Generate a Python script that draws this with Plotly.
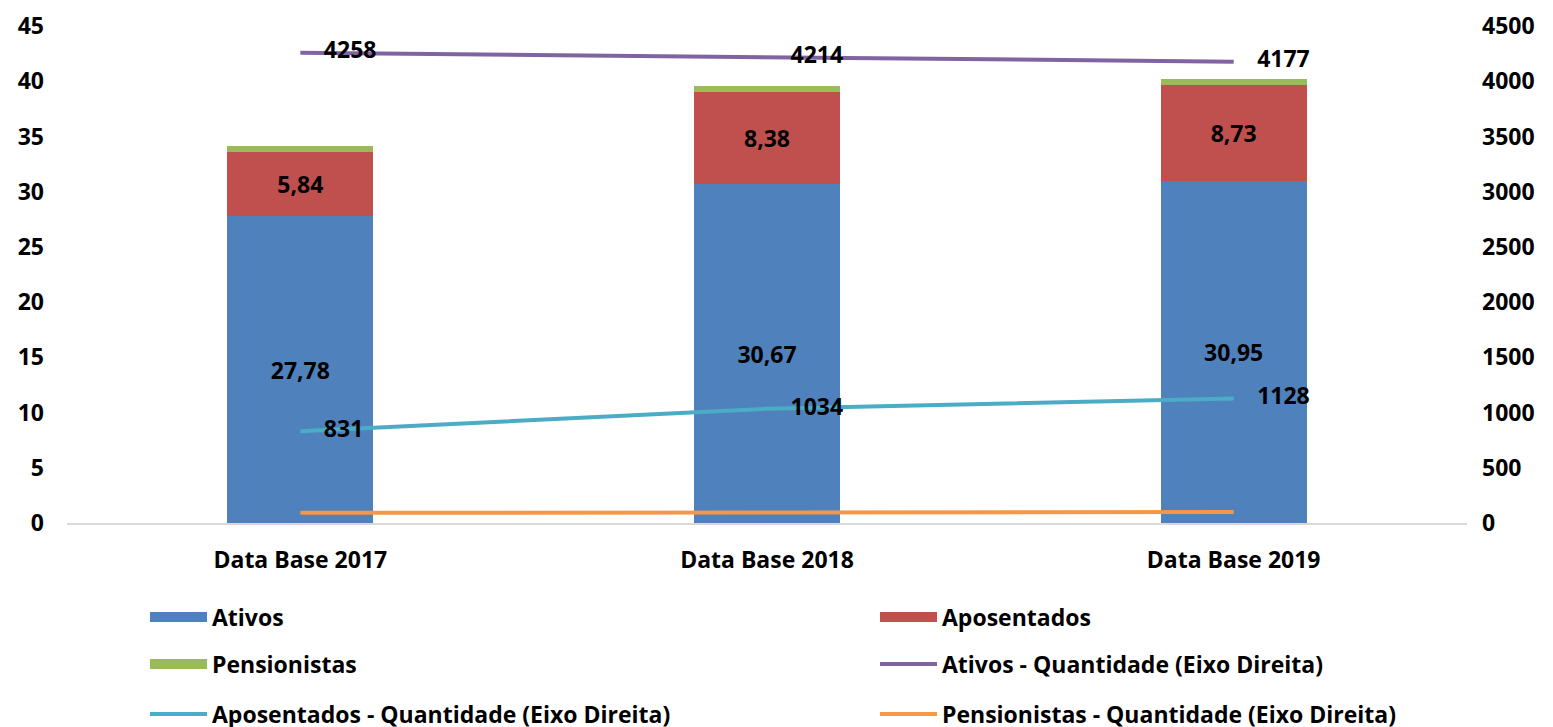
import plotly.graph_objects as go

categories = ["Data Base 2017", "Data Base 2018", "Data Base 2019"]
ativos = [27.78, 30.67, 30.95]
aposentados = [5.84, 8.38, 8.73]
pensionistas = [0.55, 0.55, 0.48]
ativos_qtd = [4258, 4214, 4177]
aposentados_qtd = [831, 1034, 1128]
pensionistas_qtd = [92, 95, 100]

FONT = "Open Sans"
W, H = 1553, 727
OFF = 8  # page body margin
L, R, T, B = 67 - OFF, 86 + OFF, 26 - OFF, 204 + OFF
pw = W - L - R
ph = H - T - B

def py(pix):
    # page pixel y -> paper y
    return (H - B - (pix - OFF)) / ph

def px(pix):
    # page pixel x -> paper x
    return (pix - OFF - L) / pw

def fnt(size):
    return dict(family=FONT, size=size, color="black", weight="bold")

fig = go.Figure()
bar_lbl = fnt(23)
bar_series = [
    ("Ativos", ativos, "#4F81BD", "legend", True),
    ("Aposentados", aposentados, "#C0504D", "legend2", True),
    ("Pensionistas", pensionistas, "#9BBB59", "legend3", False),
]
for name, vals, color, leg, labelled in bar_series:
    kw = dict(texttemplate="%{y:.2f}", textposition="inside", insidetextanchor="middle",
              textfont=bar_lbl) if labelled else {}
    fig.add_trace(go.Bar(x=categories, y=vals, name=name, marker=dict(color=color, line=dict(width=0)),
                         showlegend=False, **kw))
    # legend swatch (wide rectangle like the original)
    fig.add_trace(go.Scatter(x=[None], y=[None], name=name, mode="lines",
                             line=dict(color=color, width=15), legend=leg, showlegend=True))

line_series = [
    ("Ativos - Quantidade (Eixo Direita)", ativos_qtd, "#8064A2", "legend4", True),
    ("Aposentados - Quantidade (Eixo Direita)", aposentados_qtd, "#4BACC6", "legend5", True),
    ("Pensionistas - Quantidade (Eixo Direita)", pensionistas_qtd, "#F79646", "legend6", False),
]
for name, vals, color, leg, labelled in line_series:
    fig.add_trace(go.Scatter(x=categories, y=vals, name=name, yaxis="y2", mode="lines",
                             line=dict(color=color, width=4), legend=leg, showlegend=True))
    if labelled:
        fig.add_trace(go.Scatter(x=categories, y=vals, yaxis="y2", mode="markers+text",
                                 text=[str(v) for v in vals], textposition="middle right",
                                 marker=dict(size=36, opacity=0), textfont=bar_lbl,
                                 showlegend=False, hoverinfo="skip"))

tickf = fnt(23)
leg_common = dict(orientation="h", xanchor="left", yanchor="middle", visible=True,
                  font=fnt(23), itemwidth=57,
                  bgcolor="rgba(0,0,0,0)")
c1, c2 = px(145), px(875)
legends = dict(
    legend=dict(**leg_common, x=c1, y=py(617)),
    legend2=dict(**leg_common, x=c2, y=py(617)),
    legend3=dict(**leg_common, x=c1, y=py(664)),
    legend4=dict(**leg_common, x=c2, y=py(664)),
    legend5=dict(**leg_common, x=c1, y=py(714)),
    legend6=dict(**leg_common, x=c2, y=py(714)),
)

fig.update_layout(
    width=W, height=H,
    showlegend=True,
    margin=dict(l=L, r=R, t=T, b=B, autoexpand=False),
    paper_bgcolor="white", plot_bgcolor="white",
    barmode="stack", bargap=0.687,
    separators=",.",
    font=dict(family=FONT, color="black"),
    xaxis=dict(tickfont=tickf, showgrid=False, showline=True, linecolor="#D9D9D9", linewidth=2,
               ticks="", ticklabelstandoff=15),
    yaxis=dict(range=[0, 45], dtick=5, tickfont=tickf, showgrid=False, zeroline=False,
               showline=False, ticks="", ticklabelstandoff=22),
    yaxis2=dict(range=[0, 4500], dtick=500, overlaying="y", side="right", tickfont=tickf,
                showgrid=False, zeroline=False, showline=False, ticks="", ticklabelstandoff=14),
    **legends,
)

fig.write_html("out.html")
